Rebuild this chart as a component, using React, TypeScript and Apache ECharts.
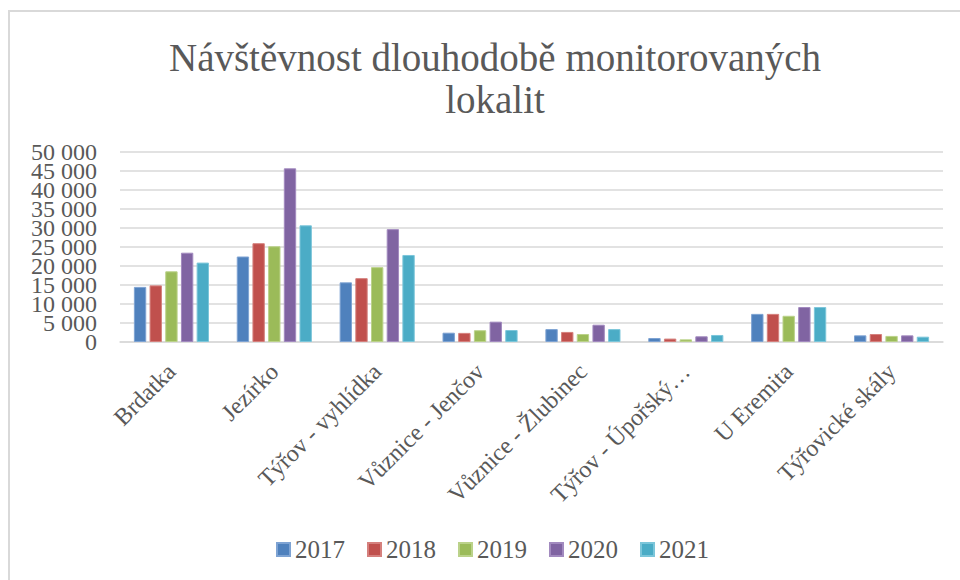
import React, { useEffect, useRef } from "react";
import * as echarts from "echarts";

const categories = [
  "Brdatka",
  "Jezírko",
  "Týřov - vyhlídka",
  "Vůznice - Jenčov",
  "Vůznice - Žlubinec",
  "Týřov - Úpořský…",
  "U Eremita",
  "Týřovické skály",
];
const years = ["2017", "2018", "2019", "2020", "2021"];
const yTickLabels = [
  "0", "5 000", "10 000", "15 000", "20 000", "25 000",
  "30 000", "35 000", "40 000", "45 000", "50 000",
];
const v2017 = [14500, 22500, 15700, 2450, 3400, 1050, 7400, 1750];
const v2018 = [14900, 26000, 16800, 2400, 2650, 900, 7400, 2100];
const v2019 = [18600, 25200, 19700, 3100, 2100, 700, 6900, 1600];
const v2020 = [23500, 45700, 29700, 5350, 4550, 1500, 9200, 1750];
const v2021 = [20900, 30700, 22900, 3150, 3400, 1850, 9200, 1400];
const seriesValues = [v2017, v2018, v2019, v2020, v2021];
const colors = ["#4F81BD", "#C0504D", "#9BBB59", "#8064A2", "#4BACC6"];
const borders = ["#7EA3D3", "#D5807D", "#BBD28A", "#A28ABF", "#7CC6DA"];

const FONT = "'Liberation Serif', 'DejaVu Serif', serif";

export default function App() {
  const ref = useRef<HTMLDivElement>(null);
  useEffect(() => {
    if (!ref.current) return;
    const chart = echarts.init(ref.current, undefined, { renderer: "svg" });
    chart.setOption({
      animation: false,
      backgroundColor: "#ffffff",
      title: {
        text: "Návštěvnost dlouhodobě monitorovaných\nlokalit",
        left: 490,
        textAlign: "center",
        top: 31,
        textStyle: {
          fontFamily: FONT,
          fontWeight: "normal",
          fontSize: 39,
          color: "#595959",
          lineHeight: 42,
        },
      },
      graphic: [
        {
          type: "rect",
          shape: { x: 9, y: 11, width: 970, height: 590 },
          style: { fill: "none", stroke: "#D9D9D9", lineWidth: 2 },
          silent: true,
        },
      ],
      legend: {
        top: 537,
        left: 276,
        padding: 0,
        itemWidth: 13,
        itemHeight: 13,
        itemGap: 22,
        icon: "rect",
        textStyle: { fontFamily: FONT, fontSize: 25, color: "#595959" },
        data: years,
      },
      grid: { left: 120, right: 17, top: 152, bottom: 238 },
      xAxis: {
        type: "category",
        data: categories,
        axisLine: { lineStyle: { color: "#D9D9D9", width: 1.5 } },
        axisTick: { show: false },
        axisLabel: {
          rotate: 45,
          interval: 0,
          margin: 10,
          verticalAlign: "top",
          lineHeight: 22,
          padding: [0, 11, 0, 0],
          fontFamily: FONT,
          fontSize: 24,
          color: "#595959",
        },
      },
      yAxis: [
        {
          type: "value",
          min: 0,
          max: 50000,
          interval: 5000,
          axisLine: { show: false },
          axisTick: { show: false },
          axisLabel: { show: false },
          splitLine: { lineStyle: { color: "#D9D9D9", width: 1.5 } },
        },
        {
          type: "category",
          data: yTickLabels,
          position: "left",
          boundaryGap: false,
          axisLine: { show: false },
          axisTick: { show: false },
          splitLine: { show: false },
          axisLabel: {
            interval: 0,
            fontFamily: FONT,
            fontSize: 24,
            lineHeight: 18,
            color: "#595959",
            margin: 23,
          },
        },
      ],
      series: years.map((y, i) => ({
        name: y,
        type: "bar",
        yAxisIndex: 0,
        data: seriesValues[i],
        barGap: "27%",
        barCategoryGap: "27%",
        itemStyle: { color: colors[i], borderColor: borders[i], borderWidth: 1 },
      })),
    });
    return () => chart.dispose();
  }, []);
  return (
    <div
      ref={ref}
      style={{ position: "absolute", left: 0, top: 0, width: 960, height: 580 }}
    />
  );
}
